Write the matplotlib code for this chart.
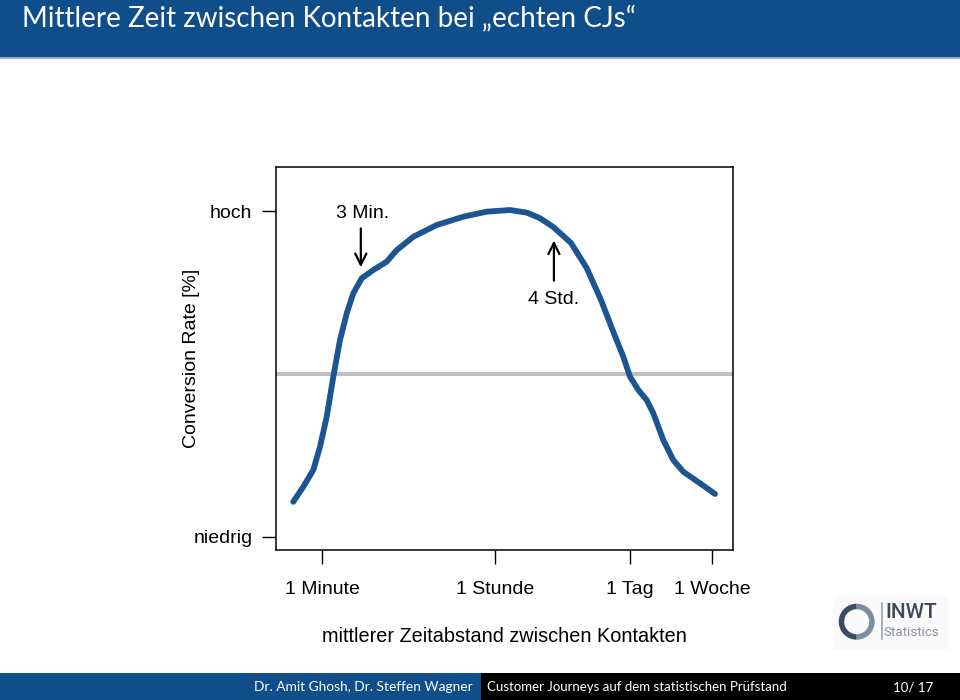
import numpy as np
import matplotlib
matplotlib.use("Agg")
import matplotlib.pyplot as plt
from matplotlib.patches import Rectangle, Wedge

# ---------------- data ----------------
title = "Mittlere Zeit zwischen Kontakten bei \u201eechten CJs\u201c"
footer_left = "Dr. Amit Ghosh, Dr. Steffen Wagner"
footer_mid = "Customer Journeys auf dem statistischen Pr\u00fcfstand"
footer_right = "10/ 17"

# time between contacts in seconds (log axis) and relative conversion rate (0 = niedrig, 1 = hoch)
curve_seconds = [30.4, 38.5, 48.8, 57.2, 67.0, 78.3, 91.7, 107.5, 125.6, 153.2, 201.5, 276.6,
                 350.4, 518.8, 901.9, 1691, 2940, 5100, 7570, 10370,
                 14190, 21570, 31260, 43840, 58640, 74270, 87000, 105900, 129100, 150900,
                 191200, 242100, 306700, 455000, 649000]
curve_rate = [0.108, 0.154, 0.2055, 0.277, 0.369, 0.4917, 0.6043, 0.686, 0.7475, 0.7936, 0.819,
              0.8445, 0.880, 0.921, 0.957, 0.9825, 0.998, 1.003, 0.995, 0.978,
              0.951, 0.902, 0.825, 0.727, 0.629, 0.553, 0.492, 0.451, 0.420, 0.3795,
              0.2975, 0.236, 0.200, 0.1647, 0.132]
reference_rate = 0.5

xtick_seconds = [60, 3600, 86400, 604800]
xtick_labels = ["1 Minute", "1 Stunde", "1 Tag", "1 Woche"]
ytick_values = [0, 1]
ytick_labels = ["niedrig", "hoch"]

annot_labels = ["3 Min.", "4 Std."]
annot_seconds = [150, 14400]

# ---------------- figure ----------------
W, H = 960, 700
fig = plt.figure(figsize=(W / 100, H / 100), dpi=100)
fig.patch.set_facecolor("white")

def fx(px):
    return px / W

def fy(py):
    return 1 - py / H

BLUE = "#104d8b"
slide_font = ["Lato", "DejaVu Sans"]
plot_font = ["Liberation Sans", "DejaVu Sans"]

# header bar
fig.patches.append(Rectangle((0, fy(57)), 1, 57 / H, transform=fig.transFigure,
                             facecolor=BLUE, edgecolor="none", zorder=-2))
fig.patches.append(Rectangle((0, fy(59)), 1, 2 / H, transform=fig.transFigure,
                             facecolor="#8fb3d5", edgecolor="none", zorder=-2))
fig.text(fx(22), fy(26), title, color="white", fontsize=20, family=slide_font,
         ha="left", va="baseline")

# footer
fig.patches.append(Rectangle((0, 0), fx(481), 27 / H, transform=fig.transFigure,
                             facecolor=BLUE, edgecolor="none", zorder=-2))
fig.patches.append(Rectangle((fx(481), 0), 1 - fx(481), 27 / H, transform=fig.transFigure,
                             facecolor="black", edgecolor="none", zorder=-2))
fig.text(fx(473), fy(687), footer_left, color="white", fontsize=9.9, family=slide_font,
         ha="right", va="center")
fig.text(fx(487), fy(687), footer_mid, color="white", fontsize=9.5, family=slide_font,
         ha="left", va="center")
fig.text(fx(933), fy(687), footer_right, color="white", fontsize=9.5, family=slide_font,
         ha="right", va="center")

# ---------------- main plot ----------------
ax = fig.add_axes([fx(276), fy(550), fx(733) - fx(276), (550 - 167) / H])
ax.set_xscale("log")
ax.set_xlim(20.2, 993000)
ax.set_ylim(-0.04, 1.135)

ax.axhline(reference_rate, color="#bebebe", lw=2.8, zorder=1)
ax.plot(curve_seconds, curve_rate, color="#1b5592", lw=4.2, solid_capstyle="round",
        solid_joinstyle="round", zorder=2)

ax.set_xticks(xtick_seconds)
ax.set_xticklabels(xtick_labels)
ax.xaxis.set_minor_locator(matplotlib.ticker.NullLocator())
ax.set_yticks(ytick_values)
ax.set_yticklabels(ytick_labels)
ax.tick_params(axis="both", length=10, width=1.0, color="black", labelsize=14)
ax.tick_params(axis="x", pad=12)
ax.tick_params(axis="y", pad=7)
for lab in ax.get_xticklabels() + ax.get_yticklabels():
    lab.set_family(plot_font)
for sp in ax.spines.values():
    sp.set_linewidth(1.1)

ax.set_xlabel("mittlerer Zeitabstand zwischen Kontakten", fontsize=14.3, family=plot_font,
              va="center")
ax.xaxis.set_label_coords(0.5, (550 - 636) / 383)
ax.set_ylabel("Conversion Rate [%]", fontsize=14, family=plot_font, va="center")
ax.yaxis.set_label_coords((192 - 276) / 457, 0.5)

# annotations
ax.annotate("", xy=(annot_seconds[0], 0.819), xytext=(annot_seconds[0], 0.955),
            arrowprops=dict(arrowstyle="->,head_length=0.8,head_width=0.4", lw=1.6, color="black"))
ax.text(annot_seconds[0] * 1.04, 0.993, annot_labels[0], fontsize=14, family=plot_font,
        ha="center", va="center")
ax.annotate("", xy=(annot_seconds[1], 0.918), xytext=(annot_seconds[1], 0.778),
            arrowprops=dict(arrowstyle="->,head_length=0.8,head_width=0.4", lw=1.6, color="black"))
ax.text(annot_seconds[1], 0.727, annot_labels[1], fontsize=14, family=plot_font,
        ha="center", va="center")

# ---------------- logo ----------------
fig.patches.append(Rectangle((fx(834), fy(650)), fx(948) - fx(834), (650 - 596) / H,
                             transform=fig.transFigure, facecolor="#fafafa",
                             edgecolor="none", zorder=-1))
cx, cy, r = 856.7, 621.7, 18
ring_ax = fig.add_axes([fx(cx - 20), fy(cy + 20), 40 / W, 40 / H], zorder=5)
ring_ax.set_xlim(-20, 20)
ring_ax.set_ylim(-20, 20)
ring_ax.set_aspect("equal")
ring_ax.axis("off")
ring_ax.add_patch(Wedge((0, 0), r, 90, 270, width=5.5, facecolor="#3a4b63", edgecolor="none"))
ring_ax.add_patch(Wedge((0, 0), r, -90, 90, width=5.5, facecolor="#7d8ea3", edgecolor="none"))
fig.lines.append(plt.Line2D([fx(881.5), fx(881.5)], [fy(603), fy(639)],
                            transform=fig.transFigure, color="#9aa3ad", lw=1.2))
fig.text(fx(885), fy(612.5), "INWT", fontsize=15, family=["Roboto", "DejaVu Sans"],
         color="#3d4a5c", ha="left", va="center", weight="medium")
fig.text(fx(883), fy(633), "Statistics", fontsize=9.6, family=["Roboto", "DejaVu Sans"],
         color="#8a929c", ha="left", va="center")

fig.savefig("out.png", dpi=100)
